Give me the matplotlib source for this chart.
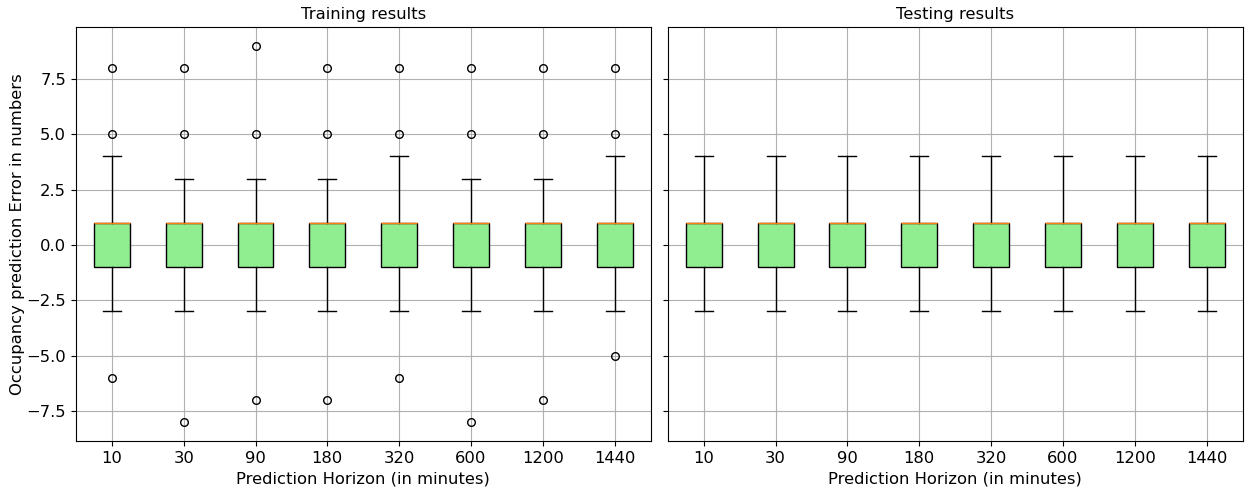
import matplotlib
matplotlib.use("Agg")
import matplotlib.pyplot as plt

horizons = ["10", "30", "90", "180", "320", "600", "1200", "1440"]

# training stats per horizon
train_q1 = [-1, -1, -1, -1, -1, -1, -1, -1]
train_med = [1, 1, 1, 1, 1, 1, 1, 1]
train_q3 = [1, 1, 1, 1, 1, 1, 1, 1]
train_whislo = [-3, -3, -3, -3, -3, -3, -3, -3]
train_whishi = [4, 3, 3, 3, 4, 3, 3, 4]
train_fliers = [
    [8, 5, -6],
    [8, 5, -8],
    [9, 5, -7],
    [8, 5, -7],
    [8, 5, -6],
    [8, 5, -8],
    [8, 5, -7],
    [8, 5, -5],
]

# testing stats per horizon
test_q1 = [-1, -1, -1, -1, -1, -1, -1, -1]
test_med = [1, 1, 1, 1, 1, 1, 1, 1]
test_q3 = [1, 1, 1, 1, 1, 1, 1, 1]
test_whislo = [-3, -3, -3, -3, -3, -3, -3, -3]
test_whishi = [4, 4, 4, 4, 4, 4, 4, 4]
test_fliers = [[], [], [], [], [], [], [], []]


def make_stats(q1, med, q3, lo, hi, fl):
    stats = []
    for i in range(len(horizons)):
        stats.append({
            "label": horizons[i], "q1": q1[i], "med": med[i], "q3": q3[i],
            "whislo": lo[i], "whishi": hi[i], "fliers": fl[i],
        })
    return stats


plt.rcParams["font.size"] = 11.8

fig, (ax1, ax2) = plt.subplots(1, 2, figsize=(12.45, 4.9), dpi=100, sharey=True)
fig.subplots_adjust(left=0.061, right=0.998, top=0.945, bottom=0.1, wspace=0.03)

panels = [
    (ax1, make_stats(train_q1, train_med, train_q3, train_whislo, train_whishi, train_fliers), "Training results"),
    (ax2, make_stats(test_q1, test_med, test_q3, test_whislo, test_whishi, test_fliers), "Testing results"),
]

for ax, stats, title in panels:
    bp = ax.bxp(stats, patch_artist=True, widths=0.5,
                flierprops=dict(markersize=5.5))
    for box in bp["boxes"]:
        box.set_facecolor("lightgreen")
    ax.set_title(title, fontsize=11.8)
    ax.set_xlabel("Prediction Horizon (in minutes)")
    ax.grid(True, color="#b0b0b0", linewidth=0.8)
    ax.set_axisbelow(True)

ax1.set_ylabel("Occupancy prediction Error in numbers", labelpad=1)

fig.savefig("out.png")
